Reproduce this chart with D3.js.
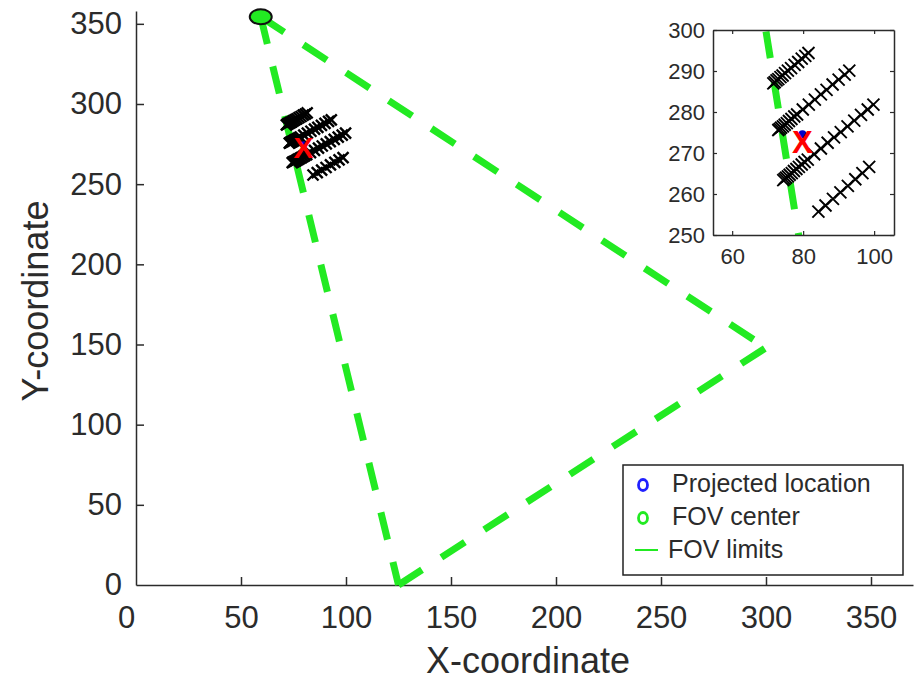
<!DOCTYPE html>
<html>
<head>
<meta charset="utf-8">
<script src="https://cdn.jsdelivr.net/npm/d3@7"></script>
<style>
    body { margin: 0; background: #fff; }
    svg text { font-family: "Liberation Sans", Arial, sans-serif; fill: #2b2b2b; }
</style>
</head>
<body>
<div id="chart"></div>
<script>

// tick labels
var xTicks = [0, 50, 100, 150, 200, 250, 300, 350];
var yTicks = [0, 50, 100, 150, 200, 250, 300, 350];
var insetXTicks = [60, 80, 100];
var insetYTicks = [250, 260, 270, 280, 290, 300];

// field of view triangle (vertex 0 is the FOV center)
var fovX = [59.4, 125, 300];
var fovY = [354.4, 0, 148];
var fovEdges = [[0, 1], [1, 2], [0, 2]];

var projectedX = [79.8];
var projectedY = [274.6];
var markX = [79.8];
var markY = [272.8];

// the four rows of "x" points
var row1X = [71.6, 72.0, 72.5, 73.0, 73.6, 74.2, 74.9, 75.7, 76.6, 77.6, 78.6, 79.6, 80.6, 81.5];
var row1Y = [287.0, 287.3, 287.7, 288.0, 288.5, 288.9, 289.5, 290.1, 290.7, 291.5, 292.2, 293.0, 293.7, 294.4];
var row2X = [73.0, 73.4, 73.8, 74.3, 74.8, 75.4, 76.0, 76.7, 77.5, 78.3, 79.9, 81.6, 83.3, 85.0, 86.6, 88.3, 90.0, 91.7, 93.0];
var row2Y = [275.6, 275.9, 276.2, 276.5, 276.9, 277.3, 277.8, 278.3, 278.9, 279.4, 280.6, 281.8, 283.0, 284.3, 285.4, 286.7, 287.9, 289.1, 290.1];
var row3X = [74.4, 74.8, 75.2, 75.7, 76.2, 76.8, 77.4, 78.1, 78.8, 79.6, 80.4, 81.3, 83.1, 85.0, 86.9, 88.7, 90.6, 92.5, 94.4, 96.3, 98.2, 99.8];
var row3Y = [263.4, 263.7, 264.0, 264.3, 264.7, 265.1, 265.6, 266.1, 266.6, 267.2, 267.8, 268.4, 269.7, 271.1, 272.5, 273.8, 275.1, 276.5, 277.9, 279.3, 280.6, 281.8];
var row4X = [84.3, 86.3, 88.4, 90.5, 92.6, 94.7, 96.7, 98.6];
var row4Y = [255.7, 257.2, 258.8, 260.4, 262.0, 263.6, 265.1, 266.6];

var legendLabels = ["Projected location", "FOV center", "FOV limits"];

var green = "#22ea22";
var dark = "#2b2b2b";

var rows = [[row1X, row1Y], [row2X, row2Y], [row3X, row3Y], [row4X, row4Y]];
var points = [];
rows.forEach(function(r) {
    r[0].forEach(function(v, i) { points.push({ x: v, y: r[1][i] }); });
});
var fovPts = fovX.map(function(v, i) { return { x: v, y: fovY[i] }; });

var svg = d3.select("#chart").append("svg")
    .attr("width", 917)
    .attr("height", 683);

// ---------------- main plot ----------------
var x = d3.scaleLinear().domain([0, 370]).range([136, 913]);
var y = d3.scaleLinear().domain([0, 358]).range([585, 11]);

var main = svg.append("g");

var xAxis = d3.axisBottom(x).tickValues(xTicks).tickSizeInner(-8).tickSizeOuter(0).tickPadding(21);
var yAxis = d3.axisLeft(y).tickValues(yTicks).tickSizeInner(-8).tickSizeOuter(0).tickPadding(14);

var gx = main.append("g")
    .attr("class", "x-axis axis")
    .attr("transform", "translate(0," + y(0) + ")")
    .call(xAxis);
var gy = main.append("g")
    .attr("class", "y-axis axis")
    .attr("transform", "translate(" + x(0) + ",0)")
    .call(yAxis);

[gx, gy].forEach(function(g) {
    g.selectAll("path").attr("stroke", dark).attr("stroke-width", 1.5);
    g.selectAll("line").attr("stroke", dark).attr("stroke-width", 1.5);
    g.selectAll("text").style("font-size", "31px").attr("fill", dark);
});
gx.selectAll(".tick").filter(function(d) { return d === 0; }).select("line").remove();
gy.selectAll(".tick").filter(function(d) { return d === 0; }).select("line").remove();
gx.selectAll(".tick text").filter(function(d) { return d === 0; }).attr("dx", -10);

main.append("text")
    .text("X-coordinate")
    .attr("x", 528)
    .attr("y", 673)
    .attr("text-anchor", "middle")
    .style("font-size", "36px");

main.append("text")
    .text("Y-coordinate")
    .attr("transform", "translate(48,301) rotate(-90)")
    .attr("text-anchor", "middle")
    .style("font-size", "36px");

// FOV limits
main.selectAll(".fov")
    .data(fovEdges)
    .enter().append("line")
    .attr("class", "fov")
    .attr("x1", function(e) { return x(fovPts[e[0]].x); })
    .attr("y1", function(e) { return y(fovPts[e[0]].y); })
    .attr("x2", function(e) { return x(fovPts[e[1]].x); })
    .attr("y2", function(e) { return y(fovPts[e[1]].y); })
    .attr("stroke", green)
    .attr("stroke-width", 7)
    .attr("stroke-dasharray", "28,23");

function crossPath(s) {
    return "M" + (-s) + "," + (-s) + "L" + s + "," + s + "M" + (-s) + "," + s + "L" + s + "," + (-s);
}

main.selectAll(".pt")
    .data(points)
    .enter().append("path")
    .attr("class", "pt")
    .attr("d", crossPath(5.5))
    .attr("transform", function(d) { return "translate(" + x(d.x) + "," + y(d.y) + ")"; })
    .attr("fill", "none")
    .attr("stroke", "#000")
    .attr("stroke-width", 2.4);

main.append("circle")
    .attr("cx", x(projectedX[0]))
    .attr("cy", y(projectedY[0]))
    .attr("r", 3.5)
    .attr("fill", "#0000c8");

main.append("text")
    .text("X")
    .attr("x", x(markX[0]))
    .attr("y", y(markY[0]))
    .attr("text-anchor", "middle")
    .attr("dy", "0.36em")
    .style("font-size", "30px")
    .style("font-weight", "bold")
    .style("fill", "#ff0000");

main.append("ellipse")
    .attr("cx", x(fovPts[0].x))
    .attr("cy", y(fovPts[0].y))
    .attr("rx", 11)
    .attr("ry", 7.5)
    .attr("fill", green)
    .attr("stroke", "#111")
    .attr("stroke-width", 2);

// ---------------- legend ----------------
var legend = main.append("g");
legend.append("rect")
    .attr("x", 623).attr("y", 465)
    .attr("width", 280).attr("height", 110)
    .attr("fill", "#fff")
    .attr("stroke", "#222")
    .attr("stroke-width", 1.5);

var legY = d3.scalePoint().domain(legendLabels).range([483, 549]);

legend.selectAll(".leg-text")
    .data(legendLabels)
    .enter().append("text")
    .attr("class", "leg-text")
    .text(function(d) { return d; })
    .attr("x", function(d, i) { return i === 2 ? 668 : 672; })
    .attr("y", function(d) { return legY(d); })
    .attr("dy", "0.36em")
    .style("font-size", "25px")
    .attr("fill", "#222");

legend.append("ellipse")
    .attr("cx", 643).attr("cy", legY(legendLabels[0]) + 2)
    .attr("rx", 4.5).attr("ry", 5.5)
    .attr("fill", "none").attr("stroke", "#2020ff").attr("stroke-width", 2.8);
legend.append("ellipse")
    .attr("cx", 643).attr("cy", legY(legendLabels[1]) + 2)
    .attr("rx", 4.5).attr("ry", 5.5)
    .attr("fill", "none").attr("stroke", green).attr("stroke-width", 2.8);
legend.append("line")
    .attr("x1", 635).attr("x2", 658)
    .attr("y1", legY(legendLabels[2]) + 1).attr("y2", legY(legendLabels[2]) + 1)
    .attr("stroke", green).attr("stroke-width", 2);

// ---------------- inset ----------------
var ix = d3.scaleLinear().domain([54.6, 105.6]).range([713, 894]);
var iy = d3.scaleLinear().domain([250, 300]).range([235, 30]);

var inset = svg.append("g");

svg.append("defs").append("clipPath")
    .attr("id", "clip-inset")
    .append("rect")
    .attr("x", ix.range()[0])
    .attr("y", iy.range()[1])
    .attr("width", ix.range()[1] - ix.range()[0])
    .attr("height", iy.range()[0] - iy.range()[1]);

inset.append("rect")
    .attr("x", ix.range()[0])
    .attr("y", iy.range()[1])
    .attr("width", ix.range()[1] - ix.range()[0])
    .attr("height", iy.range()[0] - iy.range()[1])
    .attr("fill", "#fff");

var plotArea = inset.append("g").attr("clip-path", "url(#clip-inset)");

plotArea.selectAll(".ifov")
    .data(fovEdges.slice(0, 1))
    .enter().append("line")
    .attr("class", "ifov")
    .attr("x1", function(e) { return ix(fovPts[e[0]].x); })
    .attr("y1", function(e) { return iy(fovPts[e[0]].y); })
    .attr("x2", function(e) { return ix(fovPts[e[1]].x); })
    .attr("y2", function(e) { return iy(fovPts[e[1]].y); })
    .attr("stroke", green)
    .attr("stroke-width", 7)
    .attr("stroke-dasharray", "27,24")
    .attr("stroke-dashoffset", 27.6);

plotArea.selectAll(".ipt")
    .data(points)
    .enter().append("path")
    .attr("class", "ipt")
    .attr("d", crossPath(6))
    .attr("transform", function(d) { return "translate(" + ix(d.x) + "," + iy(d.y) + ")"; })
    .attr("fill", "none")
    .attr("stroke", "#000")
    .attr("stroke-width", 1.9);

plotArea.append("circle")
    .attr("cx", ix(projectedX[0]))
    .attr("cy", iy(projectedY[0]))
    .attr("r", 4)
    .attr("fill", "#0000c8");

plotArea.append("text")
    .text("X")
    .attr("x", ix(markX[0]))
    .attr("y", iy(markY[0]))
    .attr("text-anchor", "middle")
    .attr("dy", "0.36em")
    .style("font-size", "31px")
    .style("font-weight", "bold")
    .style("fill", "#ff0000");

var ixAxis = d3.axisBottom(ix).tickValues(insetXTicks).tickSizeInner(-4).tickSizeOuter(0).tickPadding(13);
var iyAxis = d3.axisLeft(iy).tickValues(insetYTicks).tickSizeInner(-4).tickSizeOuter(0).tickPadding(8);
var ixTop = d3.axisTop(ix).tickValues(insetXTicks).tickSizeInner(-4).tickSizeOuter(0).tickFormat("");
var iyRight = d3.axisRight(iy).tickValues(insetYTicks).tickSizeInner(-4).tickSizeOuter(0).tickFormat("");

var insetAxes = [
    inset.append("g").attr("transform", "translate(0," + iy(250) + ")").call(ixAxis),
    inset.append("g").attr("transform", "translate(" + ix.range()[0] + ",0)").call(iyAxis),
    inset.append("g").attr("transform", "translate(0," + iy(300) + ")").call(ixTop),
    inset.append("g").attr("transform", "translate(" + ix.range()[1] + ",0)").call(iyRight)
];
insetAxes.forEach(function(g) {
    g.selectAll("path").attr("stroke", dark).attr("stroke-width", 1.5);
    g.selectAll("line").attr("stroke", dark).attr("stroke-width", 1.2);
    g.selectAll("text").style("font-size", "22px").attr("fill", dark);
});

</script>
</body>
</html>
